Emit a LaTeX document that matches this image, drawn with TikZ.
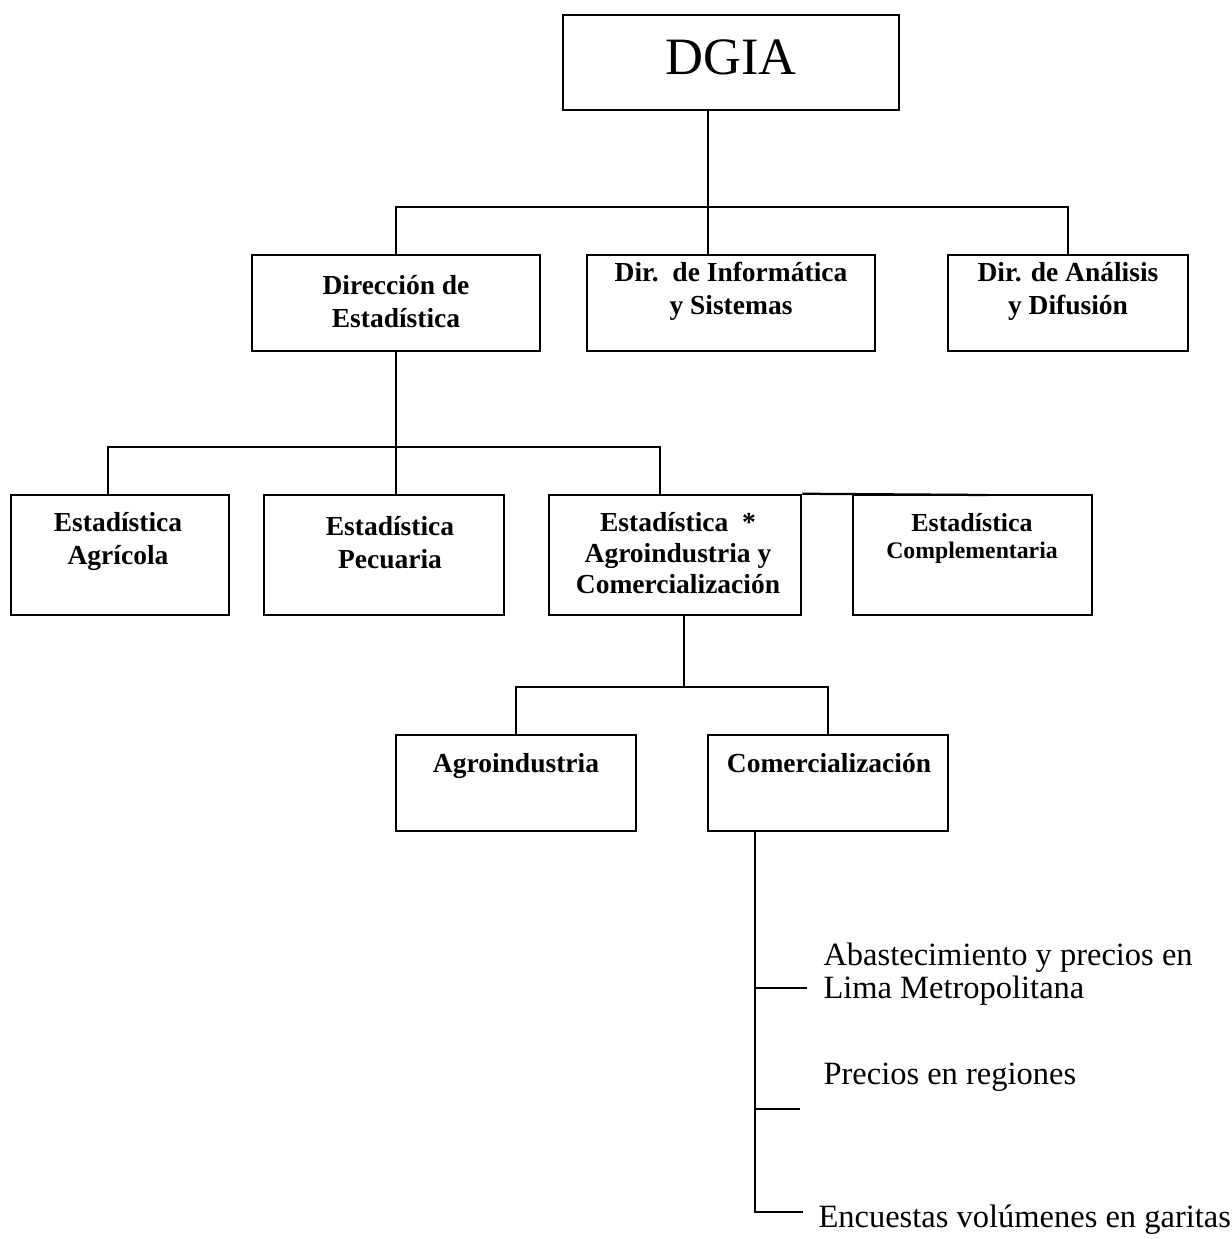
\documentclass[tikz,border=0pt]{standalone}
\usepackage{fontspec}
\setmainfont{Liberation Serif}
\usetikzlibrary{positioning}
\newlength\unitpx
\setlength\unitpx{0.4pt}
\tikzset{
    orgbox/.style = {rectangle, draw=black, line width=1pt, inner sep=0pt},
    bsize/.style 2 args = {minimum width=#1*\unitpx, minimum height=#2*\unitpx},
    orgtext/.style = {align=center, anchor=base, inner sep=0pt, font=\fontsize{11}{13}\selectfont\bfseries},
    subtext/.style = {align=left, anchor=base west, inner sep=0pt, font=\fontsize{13}{11.6}\selectfont},
    link/.style = {draw=black, line width=0.9pt},
}

\begin{document}
\begin{tikzpicture}[x=\unitpx, y=-\unitpx]
\useasboundingbox (0,0) rectangle (1232,1239);
% boxes
\node[orgbox, bsize={336}{95}] at (731,62.5) (dgia) {};
\node[orgbox, bsize={288}{96}] at (396,303) (dire) {};
\node[orgbox, bsize={288}{96}] at (731,303) (diri) {};
\node[orgbox, bsize={240}{96}] at (1068,303) (dira) {};
\node[orgbox, bsize={218}{120}] at (120,555) (agr) {};
\node[orgbox, bsize={240}{120}] at (384,555) (pec) {};
\node[orgbox, bsize={252}{120}] at (675,555) (agc) {};
\node[orgbox, bsize={239}{120}] at (972.5,555) (cpl) {};
\node[orgbox, bsize={240}{96}] at (516,783) (agi) {};
\node[orgbox, bsize={240}{96}] at (828,783) (com) {};
% texts in the boxes (base = last line)
\node[orgtext, font=\fontsize{21}{25}\selectfont] at (731,75) (dgia-t) {DGIA};
\node[orgtext] at (396,327) (dire-t) {Dirección de\\Estadística};
\node[orgtext] at (731,314) (diri-t) {Dir.\ \ de Informática\\y Sistemas};
\node[orgtext] at (1068,314) (dira-t) {Dir. de Análisis\\y Difusión};
\node[orgtext] at (118,564) (agr-t) {Estadística\\Agrícola};
\node[orgtext] at (390,568) (pec-t) {Estadística\\Pecuaria};
\node[orgtext, font=\fontsize{11}{12.4}\selectfont\bfseries] at (678,593) (agc-t)
  {Estadística\ \ *\\Agroindustria y\\Comercialización};
\node[orgtext, font=\fontsize{10.4}{10.8}\selectfont\bfseries] at (972,558) (cpl-t)
  {Estadística\\{\fontsize{9.5}{10.8}\selectfont Complementaria}};
\node[orgtext] at (516,772) (agi-t) {Agroindustria};
\node[orgtext] at (829,772) (com-t) {Comercialización};
% activities
\node[subtext] at (823,998) (abas) {Abastecimiento y precios en\\Lima Metropolitana};
\node[subtext] at (823,1084) (prec) {Precios en regiones};
\node[subtext] at (818,1227) (encu) {Encuestas volúmenes en garitas};
%
\coordinate (j1) at (708,207);
\draw[link] ([xshift=-23\unitpx]dgia.south) -- (j1) -| (dire.north);
\draw[link] (j1) -- ([xshift=-23\unitpx]diri.north);
\draw[link] (j1) -| (dira.north);
%
\coordinate (j2) at (396,447);
\draw[link] (dire.south) -- (j2);
\draw[link] (j2) -| ([xshift=-12\unitpx]agr.north);
\draw[link] (j2) -| ([xshift=12\unitpx]pec.north);
\draw[link] (j2) -| ([xshift=-15\unitpx]agc.north);
\coordinate (cend) at (987,495);
\draw[link] (agc.north east) -- (cend);
%
\coordinate (j3) at (684,687);
\draw[link] ([xshift=9\unitpx]agc.south) -- (j3);
\draw[link] (j3) -| (agi.north);
\draw[link] (j3) -| (com.north);
%
\coordinate (trunk) at ([xshift=48\unitpx]com.south west);
\coordinate (b1) at (807,988);
\coordinate (b2) at (800,1109);
\coordinate (b3) at (803,1212);
\draw[link] (trunk) |- (b3);
\draw[link] (b1 -| trunk) -- (b1);
\draw[link] (b2 -| trunk) -- (b2);
\end{tikzpicture}
\end{document}
